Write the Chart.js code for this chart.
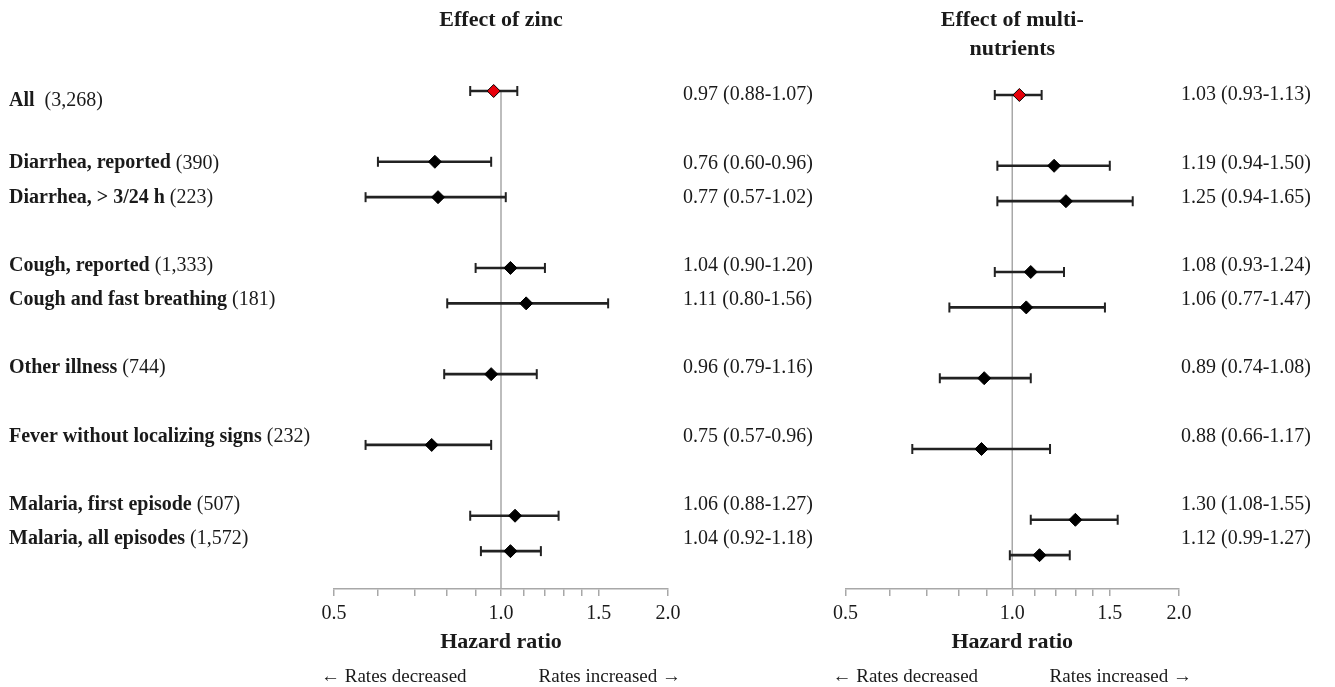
<!DOCTYPE html>
<html>
<head>
<meta charset="utf-8">
<script src="https://cdn.jsdelivr.net/npm/chart.js@4.4.1/dist/chart.umd.min.js"></script>
<style>
  body { margin: 0; background: #fff; }
  canvas { position: absolute; top: 0; }
  #zincChart { left: 0; }
  #multiChart { left: 827px; }
</style>
</head>
<body>
<canvas id="zincChart" width="827" height="687"></canvas>
<canvas id="multiChart" width="508" height="687"></canvas>
<script>
// Outcomes (rows 1, 4, 7, 9, 11 are blank spacers)
const categories = ["All", "Diarrhea, reported", "Diarrhea, > 3/24 h", "Cough, reported",
  "Cough and fast breathing", "Other illness", "Fever without localizing signs",
  "Malaria, first episode", "Malaria, all episodes"];
const counts = [" (3,268)", "(390)", "(223)", "(1,333)", "(181)", "(744)", "(232)", "(507)", "(1,572)"];
const rows = [0, 2, 3, 5, 6, 8, 10, 12, 13];

// Effect of zinc
const zincHR = [0.97, 0.76, 0.77, 1.04, 1.11, 0.96, 0.75, 1.06, 1.04];
const zincLow = [0.88, 0.60, 0.57, 0.90, 0.80, 0.79, 0.57, 0.88, 0.92];
const zincHigh = [1.07, 0.96, 1.02, 1.20, 1.56, 1.16, 0.96, 1.27, 1.18];

// Effect of multi-nutrients
const multiHR = [1.03, 1.19, 1.25, 1.08, 1.06, 0.89, 0.88, 1.30, 1.12];
const multiLow = [0.93, 0.94, 0.94, 0.93, 0.77, 0.74, 0.66, 1.08, 0.99];
const multiHigh = [1.13, 1.50, 1.65, 1.24, 1.47, 1.08, 1.17, 1.55, 1.27];

// Axis
const xTicks = [0.5, 0.6, 0.7, 0.8, 0.9, 1.0, 1.1, 1.2, 1.3, 1.4, 1.5, 2.0];
const xTickLabels = ["0.5", "1.0", "1.5", "2.0"];

const FONT = "'Liberation Serif', 'DejaVu Serif', serif";
const AXIS_GREY = "#a8a8a8";
const INK = "#1a1a1a";

// Extra text: titles, row labels, axis title, direction notes
const textPlugin = (titleLines, showLabels) => ({
  id: "panelText",
  afterDraw(chart) {
    const { ctx, chartArea, scales } = chart;
    const cx = scales.x.getPixelForValue(1);
    ctx.save();
    ctx.fillStyle = INK;
    ctx.textBaseline = "middle";

    ctx.font = "bold 22px " + FONT;
    ctx.textAlign = "center";
    titleLines.forEach((t, i) => ctx.fillText(t, cx, 20 + i * 29));
    ctx.fillText("Hazard ratio", (chartArea.left + chartArea.right) / 2, 642);

    ctx.font = "19px " + FONT;
    ctx.textAlign = "left";
    ctx.fillText("\u2190 Rates decreased", chartArea.left - 13, 677);
    ctx.textAlign = "right";
    ctx.fillText("Rates increased \u2192", chartArea.right + 13, 677);

    if (showLabels) {
      ctx.textAlign = "left";
      rows.forEach((r, i) => {
        // the "All" label sits a little lower than the others
        const y = scales.yText.getPixelForValue(r) + (i === 0 ? 6 : 0);
        ctx.font = "bold 20px " + FONT;
        ctx.fillText(categories[i], 9, y);
        const w = ctx.measureText(categories[i] + " ").width;
        ctx.font = "20px " + FONT;
        ctx.fillText(counts[i], 9 + w, y);
      });
    }
    ctx.restore();
  }
});

function makeChart(id, hr, low, high, opts) {
  const texts = hr.map((v, i) => `${v.toFixed(2)} (${low[i].toFixed(2)}-${high[i].toFixed(2)})`);
  const pointColors = rows.map((r, i) => (i === 0 ? "#e8000b" : "#000"));

  return new Chart(document.getElementById(id), {
    type: "scatter",
    data: {
      datasets: [
        {
          // reference line at HR = 1
          type: "line",
          data: [{ x: 1, y: 0 }, { x: 1, y: opts.yMax }],
          borderColor: AXIS_GREY,
          borderWidth: 1.5,
          pointRadius: 0,
          order: 4
        },
        {
          // confidence intervals
          type: "bar",
          indexAxis: "y",
          data: rows.map((r, i) => ({ y: r, x: [low[i], high[i]] })),
          backgroundColor: "#222",
          barThickness: 2,
          order: 3
        },
        {
          // interval caps
          data: rows.flatMap((r, i) => [{ x: low[i], y: r }, { x: high[i], y: r }]),
          pointStyle: "line",
          rotation: 90,
          radius: 5,
          borderWidth: 2,
          borderColor: "#222",
          order: 2
        },
        {
          // hazard ratios
          data: rows.map((r, i) => ({ x: hr[i], y: r })),
          pointStyle: "rectRot",
          radius: 6.5,
          backgroundColor: pointColors,
          borderColor: "#000",
          borderWidth: 1,
          order: 1
        }
      ]
    },
    options: {
      responsive: false,
      animation: false,
      layout: { padding: { left: opts.padLeft, top: 70, right: 0, bottom: 0 } },
      plugins: { legend: { display: false }, tooltip: { enabled: false } },
      scales: {
        x: {
          type: "logarithmic",
          min: 0.5,
          max: 2.0,
          offset: false,
          afterBuildTicks: (s) => { s.ticks = xTicks.map((v) => ({ value: v })); },
          afterFit: (s) => { s.height = 98; },
          ticks: {
            autoSkip: false,
            maxRotation: 0,
            padding: 6,
            color: INK,
            font: { family: FONT, size: 20 },
            callback: (v) => (xTickLabels.includes(v.toFixed(1)) ? v.toFixed(1) : "")
          },
          grid: { drawOnChartArea: false, offset: false, tickLength: 7, color: AXIS_GREY, lineWidth: 1.5 },
          border: { color: AXIS_GREY, width: 1.5 }
        },
        y: {
          type: "linear",
          display: false,
          offset: false,
          reverse: true,
          min: opts.yMin,
          max: opts.yMax,
          grid: { offset: false }
        },
        yText: {
          type: "linear",
          position: "right",
          offset: false,
          reverse: true,
          min: -0.732,
          max: 14.466,
          afterBuildTicks: (s) => { s.ticks = rows.map((r) => ({ value: r })); },
          afterFit: (s) => { s.width = opts.textWidth; },
          ticks: {
            autoSkip: false,
            padding: opts.textPad,
            color: INK,
            font: { family: FONT, size: 20 },
            callback: (v) => texts[rows.indexOf(v)]
          },
          grid: { display: false, drawTicks: false },
          border: { display: false }
        }
      }
    },
    plugins: [textPlugin(opts.title, opts.labels)]
  });
}

makeChart("zincChart", zincHR, zincLow, zincHigh, {
  title: ["Effect of zinc"], labels: true,
  padLeft: 334, textWidth: 159, textPad: 15, yMin: -0.593, yMax: 14.07
});
makeChart("multiChart", multiHR, multiLow, multiHigh, {
  title: ["Effect of multi-", "nutrients"], labels: false,
  padLeft: 14, textWidth: 156, textPad: 2, yMin: -0.706, yMax: 13.955
});
</script>
</body>
</html>
